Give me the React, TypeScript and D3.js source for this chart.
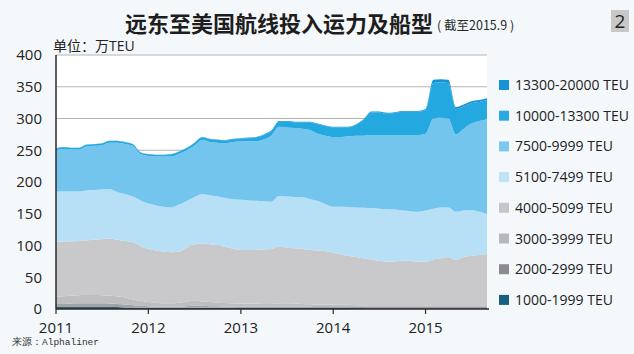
import React from "react";
import * as d3 from "d3";

// monthly capacity by ship size, 万TEU, Jan 2011 – Sep 2015
const months = d3.timeMonth.range(new Date(2011, 0, 1), new Date(2015, 9, 1));

const s1000 = [3,3,3,3,3,3,3,3,3,2.5,2.5, 2,2,2,2,2,2,2,2,2,2,2,2,2,
  1.5,1.5,1.5,1.5,1.5,1.5,1.5,1.5,1.5,1.5,1.5,1.5,1.5,1.5,1.5,1.5,1.5,
  1,1,1,1,1,1,1,1,1,1,1,1,1,1,1,1];
const s2000 = [5,5,5.5,6,6,6,6,5.5,5,4.5,3.5, 3,2.5,2,2,2,2,2.5,3,3,2.5,2.5,2,2,
  2.5,2.5,2.5,2,2,2,2,2,2,2,1.5,1.5,1.5,1.5,1.5,1.5,1.5,
  2,2,2,2,2,2,2,2,2,2,2,2,2,2,2,2];
const s3000 = [11,12,12.5,12.5,13,13,12.5,12.5,12,11,9, 8,6.5,6,5,5,6,7.5,8,7,6.5,5.5,5.5,5,
  4.5,4.5,4.5,4.5,4.5,5.5,5.5,5,4.5,4,4,4,4,3.5,3.5,3,3,
  3,3,3,3,3,3,3,3,3,3,3,3,3,3,3,3];
const s4000 = [87,86,85.5,85.5,86,87,88.5,90,89,89,90, 86,84,82,81.5,80.5,80,85,88,91.5,91,90,88.5,86,
  84.5,84.5,85,86,86.5,89,88,87,86.5,85.5,85,84,82,79.5,77.5,76,74,
  72,70,68.5,69,70,69.5,69,68.5,72,74,76,71,76,78,79,80.5];
const s5100 = [79,79,78.5,78,78.5,78.5,78,77.5,75,74,72, 72,71,71,70.5,70.5,74,73,75,77.5,77,77,77,78,
  79,78,77,76,74.5,80,80,81,81.5,80,78,74,72,75,76.5,78,79.5,
  81,82,82.5,81.5,79,78.5,78,80.5,80,80,78,76,73,72,68,63.5];
const s7500 = [65,67,66,66,69.5,69.5,70,73.5,78,79,80, 73,75,77,79,80,80,80,81,85,84,85,86,90,
  92,93,93.5,97,104,109,109,108.5,108,109,106,108,110,110,111.5,113,113.5,
  115,116,117,117.5,119,120,121,121,142,141,140,122,129,136,143,149];
const s10000 = [2.5,2.5,2.5,2.5,2.5,2.5,2.5,2.5,2.5,2.5,2.5,2.5,2.5,2.5,2.5, 3.5,3.5,3.5, 4.5,4.5,4.5,4.5,4.5,4.5,
  4,5,6,7,7,8,9,9,10,12,15,15,15,15,14,17,25,
  35.5,35.5,33.5,34.5,36.5,36.5,36.5,37.5,56,56,56,40,35,32,30,30];
const s13300 = [0.5,0.5,0.5,0.5,0.5,0.5,0.5,0.5,0.5,0.5,0.5,0.5,0.5,0.5,0.5,0.5,0.5,0.5,0.5,0.5,0.5,0.5,0.5,0.5,
  1,1,1,1,1,1,1,1,1,1,1,1,1,1,1,1,1,
  1.5,1.5,1.5,1.5,1.5,1.5,1.5,1.5,5,5,5,3,3,3,3,3];

const sizeClasses = ["1000-1999 TEU", "2000-2999 TEU", "3000-3999 TEU", "4000-5099 TEU",
  "5100-7499 TEU", "7500-9999 TEU", "10000-13300 TEU", "13300-20000 TEU"];
const seriesValues = [s1000, s2000, s3000, s4000, s5100, s7500, s10000, s13300];
const legendColors = ["#17607f", "#8c8c8e", "#b8b8ba", "#c6c6c8", "#bfe3f6", "#7cc8ef", "#29abe2", "#1592d4"];
const areaColors = ["#2d6276", "#a2a2a4", "#bebec0", "#c9c9cb", "#b7dff5", "#74c5ee", "#23a8e0", "#1592d4"];
const yTicks = [0, 50, 100, 150, 200, 250, 300, 350, 400];
const yearTicks = [2011, 2012, 2013, 2014, 2015];

const W = 634, H = 354;
const left = 56, right = 487, top = 55, bottom = 309;

export default function App() {
  const x = d3.scaleTime()
    .domain([months[0], months[months.length - 1]])
    .range([left, right]);
  const y = d3.scaleLinear().domain([0, 400]).range([bottom, top]);

  const rows = months.map((m, i) => {
    const r: any = { date: m };
    sizeClasses.forEach((k, j) => { r[k] = seriesValues[j][i]; });
    return r;
  });
  const stacked = d3.stack().keys(sizeClasses)(rows);
  const area = d3.area<any>()
    .x((d) => x(d.data.date))
    .y0((d) => y(d[0]))
    .y1((d) => y(d[1]))
    .curve(d3.curveMonotoneX);

  const font = "'Open Sans', 'Noto Sans CJK SC', sans-serif";
  const cjk = "'Noto Sans CJK SC', sans-serif";
  const legendOrder = sizeClasses.map((k, i) => i).reverse();

  return (
    <svg width={W} height={H} style={{ position: "absolute", left: 0, top: 0, display: "block" }}>
      <rect width={W} height={H} fill="#f4f8fb" />
      <rect x={left} y={top} width={right - left} height={bottom - top} fill="#ffffff" />

      {/* title */}
      <text x={125} y={32} fontFamily={cjk} fontWeight="bold" fontSize={22} fill="#1e1e1e">
        远东至美国航线投入运力及船型
      </text>
      <text x={437} y={30} fontFamily={cjk} fontSize={12.5} fill="#2a2a2a">( 截至2015.9 )</text>
      <rect x={611} y={10} width={18} height={22} fill="#c8c8c8" />
      <text x={620} y={28} textAnchor="middle" fontFamily={font} fontSize={19} fill="#222">2</text>

      <text x={53} y={51} fontFamily={font} fontSize={14} fill="#222">单位：万TEU</text>

      {/* grid */}
      {yTicks.filter((t) => t > 0).map((t) => (
        <line key={t} x1={left} x2={right} y1={y(t)} y2={y(t)} stroke="#b4b4b4" strokeWidth={1} />
      ))}

      {stacked.map((s, i) => (
        <path key={s.key} d={area(s as any) || ""} fill={areaColors[i]} />
      ))}

      {/* axes */}
      <line x1={left} x2={left} y1={top} y2={bottom} stroke="#2a2a2a" strokeWidth={1.5} />
      <line x1={left} x2={right + 2} y1={bottom} y2={bottom} stroke="#2a2a2a" strokeWidth={1.5} />
      {yTicks.map((t) => (
        <text key={t} x={42} y={y(t)} dy="0.36em" textAnchor="end" fontFamily={font} fontSize={15} fill="#222">{t}</text>
      ))}
      {yearTicks.map((yr) => {
        const xx = x(new Date(yr, 0, 1));
        return (
          <g key={yr}>
            <line x1={xx} x2={xx} y1={bottom} y2={bottom + 5} stroke="#2a2a2a" strokeWidth={1.2} />
            <text x={xx} y={333} textAnchor="middle" fontFamily={font} fontSize={15} fill="#222">{yr}</text>
          </g>
        );
      })}

      {/* legend */}
      {legendOrder.map((idx, row) => {
        const ly = 85 + row * 30.7;
        return (
          <g key={sizeClasses[idx]}>
            <rect x={499} y={ly - 5} width={10} height={10} fill={legendColors[idx]} />
            <text x={515} y={ly} dy="0.36em" fontFamily={font} fontSize={14} fill="#222">{sizeClasses[idx]}</text>
          </g>
        );
      })}

      <text x={12} y={345} fontFamily="'Liberation Mono', 'DejaVu Sans Mono', monospace" fontSize={9.5} fill="#333">
        来源：Alphaliner
      </text>
    </svg>
  );
}
